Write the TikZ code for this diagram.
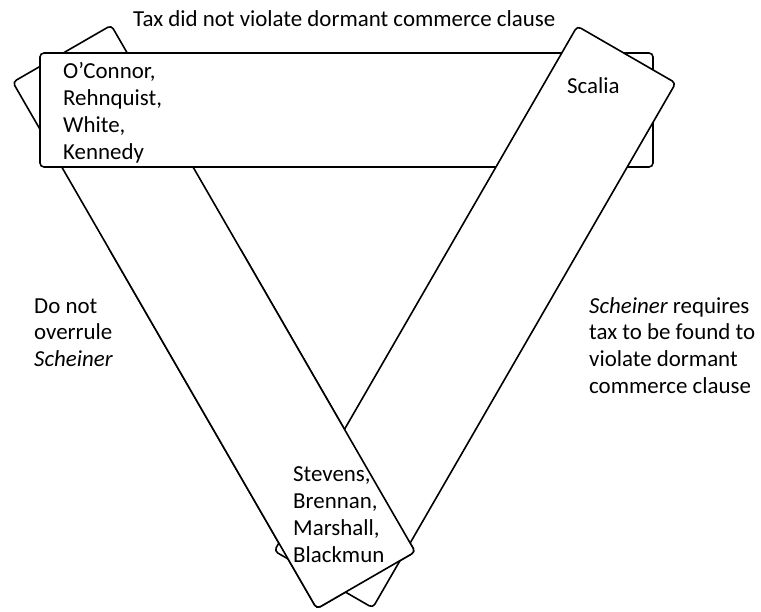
\documentclass[tikz,border=0pt]{standalone}
\usepackage{fontspec}
\setmainfont{Carlito}
\begin{document}
\begin{tikzpicture}[x=1pt,y=-1pt,
  band/.style={draw=black, line width=1.6pt, fill=white, rounded corners=4pt, inner sep=0pt, shape=rectangle},
  lbl/.style={font=\fontsize{22.9}{27}\selectfont, align=left, inner sep=0pt, anchor=base west}]
\useasboundingbox (0,0) rectangle (761,612);
% bands
\node[band, minimum width=608pt, minimum height=113.7pt, rotate=-60] (leftband) at (214,317) {};
\node[band, minimum width=613pt, minimum height=114pt] (topband) at (346.5,110) {};
\node[band, minimum width=606pt, minimum height=113.7pt, rotate=60] (rightband) at (475,317) {};
\begin{scope}
  \clip (0,250) rectangle (761,612);
  \node[band, minimum width=608pt, minimum height=113.7pt, rotate=-60] (leftfront) at (214,317) {};
\end{scope}
% texts (anchor = baseline of last line)
\node[lbl] (toptext) at (133,27) {Tax did not violate dormant commerce clause};
\node[lbl] (majority) at (63,160) {O’Connor,\\Rehnquist,\\White,\\Kennedy};
\node[lbl] (scalia) at (567,94) {Scalia};
\node[lbl] (dissent) at (293,562) {Stevens,\\Brennan,\\Marshall,\\Blackmun};
\node[lbl] (lefttext) at (34,367) {Do not\\overrule\\\textit{Scheiner}};
\node[lbl] (righttext) at (589,394) {\textit{Scheiner} requires\\tax to be found to\\violate dormant\\commerce clause};
\end{tikzpicture}
\end{document}
